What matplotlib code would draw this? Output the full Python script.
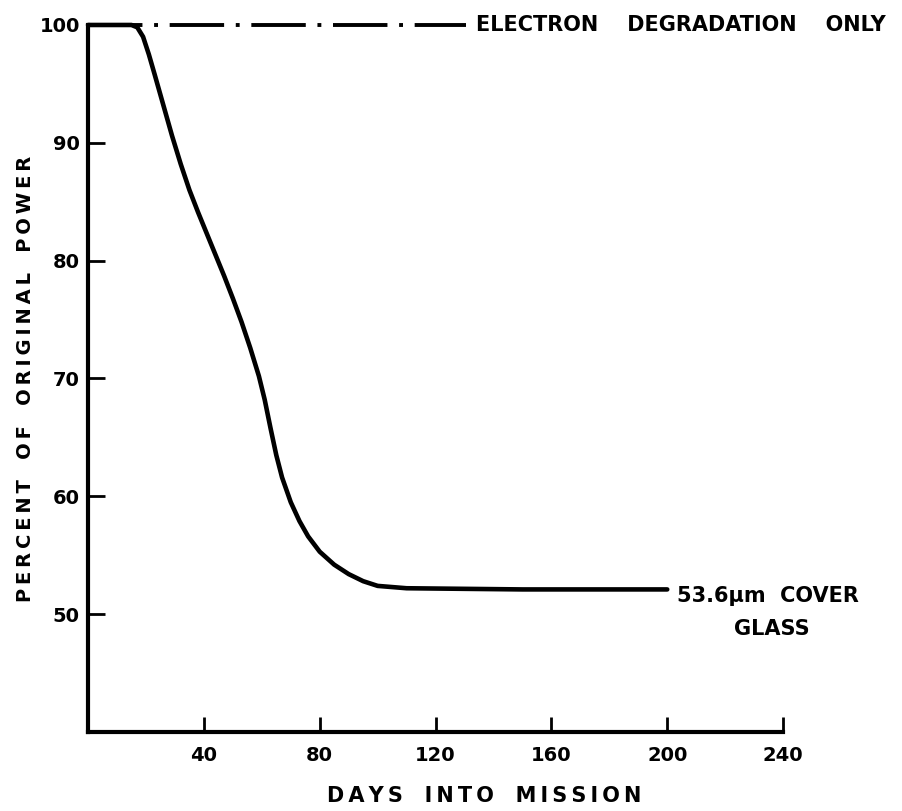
import matplotlib
matplotlib.use('Agg')
import matplotlib.pyplot as plt

# curve (days, percent of original power)
days = [0, 15, 17, 19, 21, 23, 26, 29, 32, 35, 38, 41, 44, 47, 50, 53, 56, 59,
        61, 63, 65, 67, 70, 73, 76, 80, 85, 90, 95, 100, 110, 150, 200]
power = [100, 100, 99.8, 99.0, 97.5, 95.8, 93.2, 90.6, 88.2, 86.0, 84.1, 82.3,
         80.5, 78.7, 76.8, 74.8, 72.6, 70.2, 68.2, 65.8, 63.5, 61.6, 59.5, 57.9,
         56.6, 55.3, 54.2, 53.4, 52.8, 52.4, 52.2, 52.1, 52.1]

# electron-only reference line
elec_days = [0, 130.5]
elec_power = [100, 100]

xticks = [40, 80, 120, 160, 200, 240]
yticks = [50, 60, 70, 80, 90, 100]


def spaced(s):
    # wide letter spacing like the original lettering
    return '   '.join('\u2009'.join(w) for w in s.split())


plt.rcParams['font.family'] = ['DejaVu Sans']
plt.rcParams['font.weight'] = 'bold'

fig = plt.figure(figsize=(9.03, 8.11), dpi=100)
ax = fig.add_axes([0.0975, 0.0974, 0.7697, 0.8718])

ax.plot(elec_days, elec_power, color='black', lw=2.8, dashes=(14, 3, 1, 3),
        clip_on=False, solid_capstyle='butt')
ax.plot(days, power, color='black', lw=3.3, clip_on=False,
        solid_joinstyle='round', solid_capstyle='round')

ax.set_xlim(0, 240)
ax.set_ylim(40, 100)
ax.spines['top'].set_visible(False)
ax.spines['right'].set_visible(False)
ax.spines['left'].set_linewidth(3)
ax.spines['bottom'].set_linewidth(3)

ax.set_xticks(xticks)
ax.set_yticks(yticks)
ax.tick_params(axis='x', direction='in', length=11, width=2, pad=10, labelsize=14)
ax.tick_params(axis='y', direction='in', length=12, width=2, pad=6, labelsize=14)
for lab in ax.get_xticklabels() + ax.get_yticklabels():
    lab.set_fontweight('bold')

ax.set_xlabel(spaced('DAYS INTO MISSION'), fontsize=15, fontweight='bold')
ax.xaxis.set_label_coords(0.57, -0.077)
ax.set_ylabel(spaced('PERCENT OF ORIGINAL POWER'), fontsize=14, fontweight='bold',
              labelpad=3)

ax.text(134, 100, 'ELECTRON    DEGRADATION    ONLY', fontsize=15, fontweight='bold',
        ha='left', va='center', clip_on=False)
ax.text(203.4, 51.7, '53.6\u03bcm  COVER', fontsize=15, fontweight='bold',
        ha='left', va='center_baseline', clip_on=False)
ax.text(236, 48.9, 'GLASS', fontsize=15, fontweight='bold',
        ha='center', va='center_baseline', clip_on=False)

fig.savefig('out.png', dpi=100)
